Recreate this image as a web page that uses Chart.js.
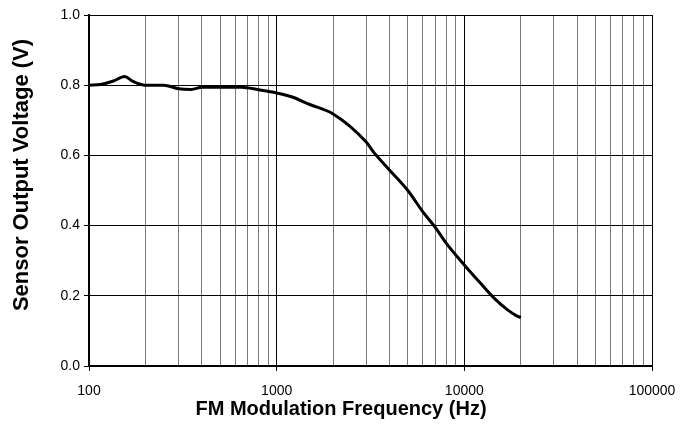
<!DOCTYPE html>
<html>
<head>
<meta charset="utf-8">
<script src="https://cdn.jsdelivr.net/npm/chart.js@4/dist/chart.umd.min.js"></script>
<style>
  html, body { margin: 0; padding: 0; background: #fff; }
  #wrap { width: 682px; height: 425px; }
</style>
</head>
<body>
<div id="wrap"><canvas id="chart" width="682" height="425"></canvas></div>
<script>
// frequency response
const freqHz = [100, 115, 135, 155, 170, 200, 250, 300, 350, 400, 650, 800, 1000, 1200, 1500, 2000,
  3000, 3300, 4000, 5000, 6000, 7000, 8000, 10000, 12000, 14500, 17000, 19000, 20000];
const voltage = [0.80, 0.802, 0.812, 0.825, 0.812, 0.80, 0.80, 0.79, 0.788, 0.794, 0.794, 0.787, 0.778, 0.767, 0.745, 0.718,
  0.638, 0.608, 0.558, 0.50, 0.44, 0.395, 0.35, 0.288, 0.24, 0.192, 0.16, 0.143, 0.138];

const xTicks = [];
for (let e = 2; e < 5; e++) {
  for (let m = 1; m < 10; m++) xTicks.push(m * Math.pow(10, e));
}
xTicks.push(100000);
const decades = [100, 1000, 10000, 100000];

const isDecade = v => decades.includes(Math.round(v));
const fontFamily = 'Liberation Sans, Arial, sans-serif';

// y title sits a bit above the plot centre in the original, so draw it by hand
const yTitle = {
  id: 'yTitle',
  afterDraw(chart) {
    const c = chart.ctx;
    c.save();
    c.translate(22, 175);
    c.rotate(-Math.PI / 2);
    c.font = 'bold 22px ' + fontFamily;
    c.fillStyle = '#000';
    c.textAlign = 'center';
    c.textBaseline = 'middle';
    c.fillText('Sensor Output Voltage (V)', 0, 0);
    c.restore();
  }
};

const ctx = document.getElementById('chart').getContext('2d');
new Chart(ctx, {
  type: 'line',
  data: {
    datasets: [{
      data: freqHz.map((f, i) => ({ x: f, y: voltage[i] })),
      borderColor: '#000',
      borderWidth: 3,
      pointRadius: 0,
      cubicInterpolationMode: 'monotone',
      fill: false
    }]
  },
  options: {
    responsive: false,
    animation: false,
    layout: { padding: { top: 15, right: 0, left: 0, bottom: 0 } },
    plugins: {
      legend: { display: false },
      tooltip: { enabled: false },
      title: {
        display: true,
        position: 'bottom',
        text: 'FM Modulation Frequency (Hz)',
        color: '#000',
        font: { family: fontFamily, size: 20, weight: 'bold' },
        padding: { top: 0, bottom: 4 }
      }
    },
    scales: {
      x: {
        type: 'logarithmic',
        min: 100,
        max: 100000,
        afterBuildTicks: axis => { axis.ticks = xTicks.map(v => ({ value: v })); },
        afterFit: axis => {
          axis.height = 31;
          axis.paddingLeft = 0;
          axis.paddingRight = 30;
        },
        ticks: {
          autoSkip: false,
          maxRotation: 0,
          color: '#000',
          font: { family: fontFamily, size: 14 },
          padding: 12,
          callback: v => isDecade(v) ? String(Math.round(v)) : ''
        },
        grid: {
          color: c => isDecade(c.tick.value) ? '#000' : '#7a7a7a',
          tickColor: c => isDecade(c.tick.value) ? '#000' : 'rgba(0,0,0,0)',
          tickLength: 5,
          lineWidth: 1
        },
        border: { color: '#000', width: 2 }
      },
      y: {
        min: 0,
        max: 1,
        afterFit: axis => { axis.width = 89; },
        ticks: {
          stepSize: 0.2,
          color: '#000',
          font: { family: fontFamily, size: 14 },
          padding: 4,
          callback: v => v.toFixed(1)
        },
        grid: { color: '#000', tickColor: '#000', tickLength: 5, lineWidth: 1 },
        border: { color: '#000', width: 2 }
      }
    }
  },
  plugins: [yTitle]
});
</script>
</body>
</html>
